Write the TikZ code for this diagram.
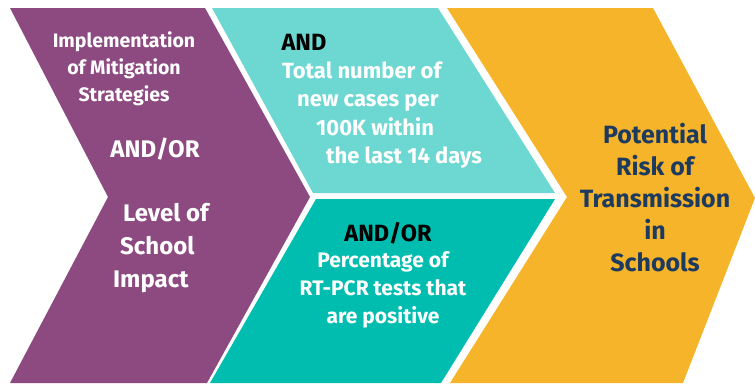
\documentclass[tikz,border=0pt]{standalone}
\usepackage{fontspec}
\setmainfont{Fira Sans}
\definecolor{plum}{HTML}{8C4A80}
\definecolor{aqua}{HTML}{6DD7D1}
\definecolor{teal2}{HTML}{00BDB0}
\definecolor{amber}{HTML}{F6B42A}
\definecolor{navy}{HTML}{1D3A5F}
\newcommand{\fsz}[2]{\fontsize{#1}{#2}\selectfont}

\begin{document}
\begin{tikzpicture}[x=1pt, y=-1pt,
    txt/.style={text=white, font=\bfseries, align=center, inner sep=0pt},
    key/.style={text=black, font=\bfseries\fsz{23.5}{26}, inner sep=0pt}]
    \useasboundingbox (0,0) rectangle (755,383);

    % Chevrons
    \fill[plum]  (10,8) -- (205,8) -- (310,197) -- (207,383) -- (10,383) -- (108,197) -- cycle;
    \fill[aqua]  (212,8) -- (438,8) -- (555,193) -- (313,193) -- cycle;
    \fill[teal2] (316,199) -- (555,199) -- (441,383) -- (210,383) -- cycle;
    \fill[amber] (447,8) -- (653,8) -- (755,198) -- (683,383) -- (450,383) -- (567,197) -- cycle;

    % Left chevron
    \node[txt, font=\bfseries\fsz{19.5}{27}] (mitigation) at (124,69) {Implementation\\of Mitigation\\Strategies};
    \node[txt, font=\bfseries\fsz{24}{27}] (andor-1) at (155,149) {AND/OR};
    \node[txt, align=left, anchor=west, font=\bfseries\fsz{24}{33}] (impact) at (113,248) {\hspace*{10pt}Level of\\\hspace*{7pt}School\\Impact};

    % Middle blocks
    \node[key] (and) at (304,42) {AND};
    \node[txt, align=left, anchor=west, font=\bfseries\fsz{22}{28.5}] (cases) at (282,115) {Total number of\\\hspace*{15pt}new cases per\\\hspace*{34pt}100K within\\\hspace*{44pt}the last 14 days};
    \node[key] (andor-2) at (388,233) {AND/OR};
    \node[txt, font=\bfseries\fsz{21}{28}] (tests) at (383,290) {Percentage of\\RT-PCR tests that\\are positive};

    % Right chevron
    \node[txt, text=navy, font=\bfseries\fsz{25}{32}] (risk) at (655,198) {Potential\\Risk of\\Transmission\\in\\Schools};

\end{tikzpicture}
\end{document}
